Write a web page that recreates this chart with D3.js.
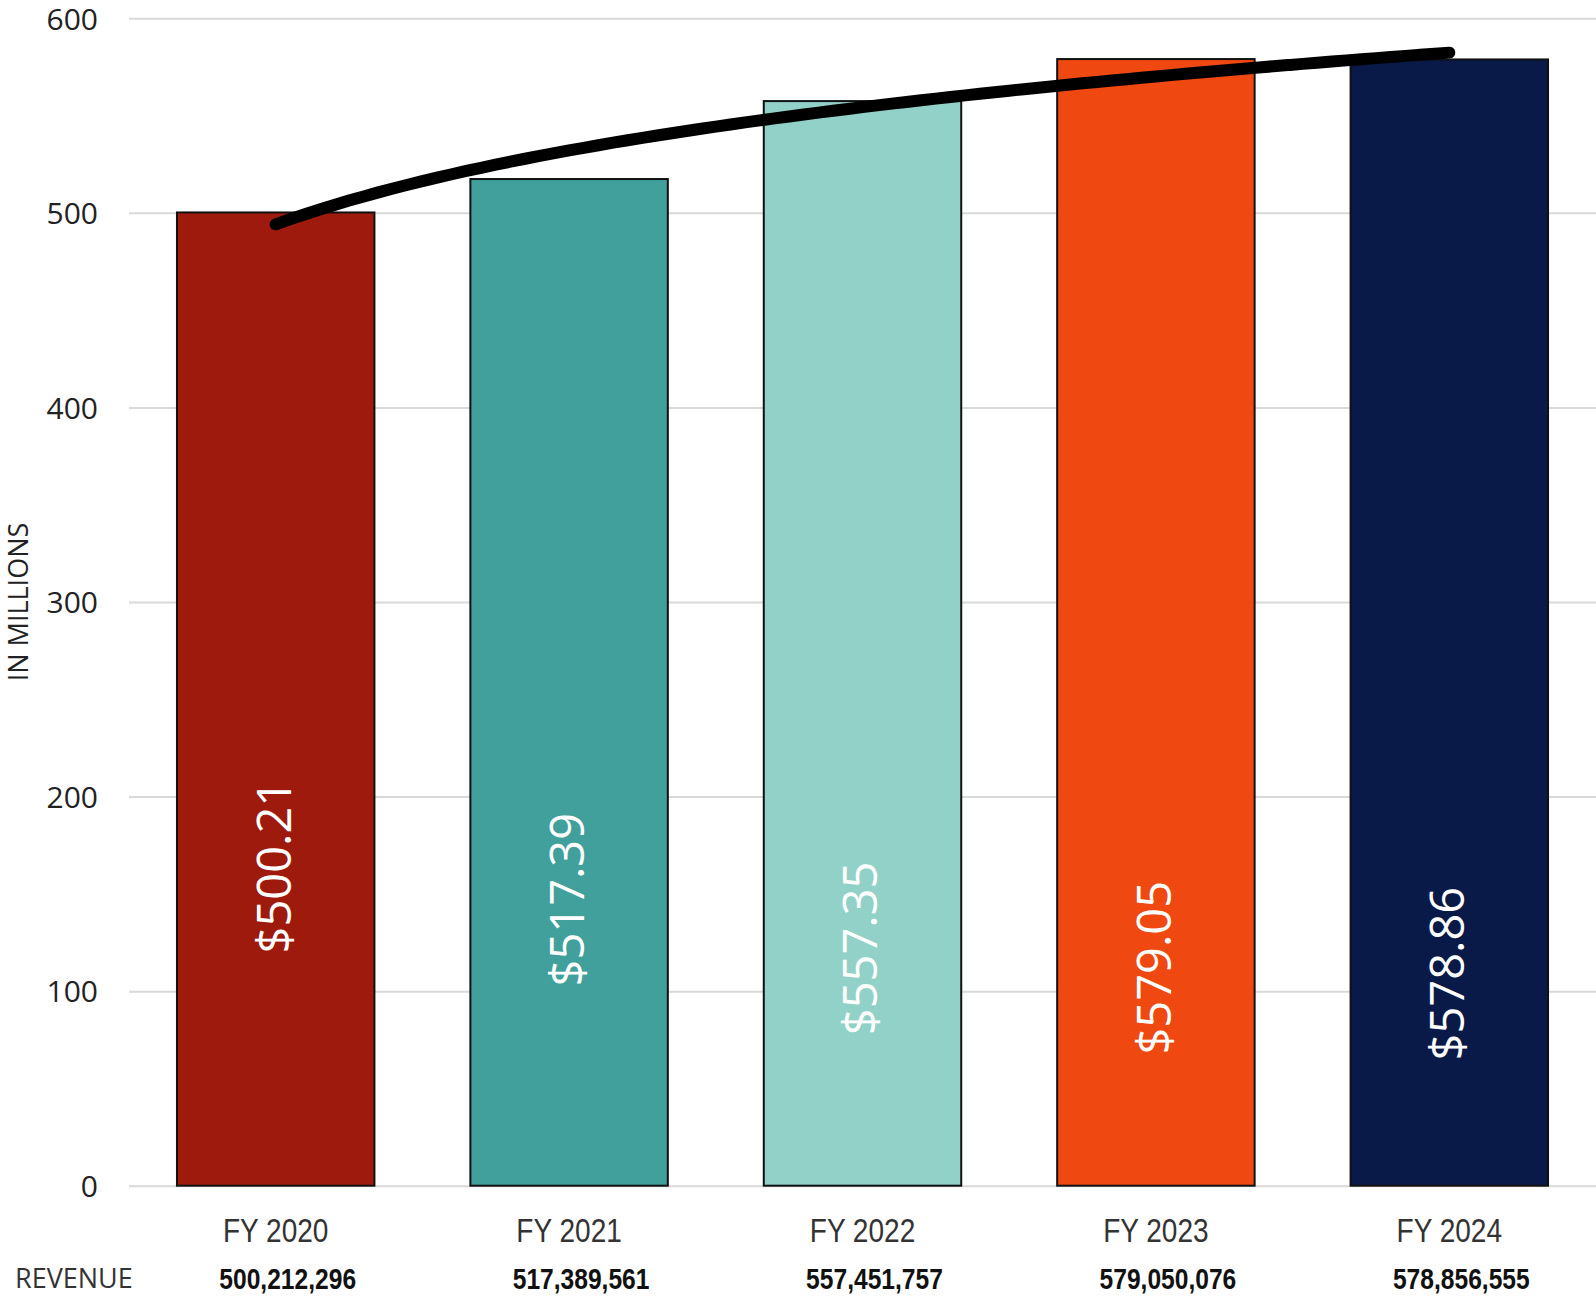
<!DOCTYPE html>
<html>
<head>
<meta charset="utf-8">
<script src="https://cdn.jsdelivr.net/npm/d3@7"></script>
<style>
  body { margin: 0; background: #fff; }
  svg { display: block; }
</style>
</head>
<body>
<svg id="chart"></svg>
<script>
// Chart data
const years = ["FY 2020", "FY 2021", "FY 2022", "FY 2023", "FY 2024"];
const revenue = [500212296, 517389561, 557451757, 579050076, 578856555];
// labels exactly as printed on the bars
const valueLabels = ["$500.21", "$517.39", "$557.35", "$579.05", "$578.86"];
const barColors = ["#9e1a0c", "#41a09b", "#92d1c7", "#ef4811", "#0a1a48"];
const yTicks = [0, 100, 200, 300, 400, 500, 600];
// where the middle of each value label sits, in axis units (millions)
const labelMid = [164, 147, 122, 112, 109];

const width = 1596;
const height = 1299;
const plotLeft = 129;
const svg = d3.select("#chart")
    .attr("width", width)
    .attr("height", height);

const millions = revenue.map(d => d / 1e6);

const x = d3.scaleBand()
    .domain(years)
    .range([plotLeft, width])
    .paddingInner(0.327)
    .paddingOuter(0.1635);

const y = d3.scaleLinear()
    .domain([0, 600])
    .range([1185.7, 18.3]);

// Gridlines and tick labels
const yAxis = d3.axisLeft(y)
    .tickValues(yTicks)
    .tickSize(-(width - plotLeft))
    .tickPadding(31)
    .tickFormat(d3.format("d"));

const axisG = svg.append("g")
    .attr("transform", `translate(${plotLeft},0)`)
    .call(yAxis);
axisG.select(".domain").remove();
axisG.selectAll(".tick line")
    .attr("stroke", "#d9d9d9")
    .attr("stroke-width", 2);
axisG.selectAll(".tick text")
    .attr("font-family", "'Open Sans', sans-serif")
    .attr("font-size", 30)
    .attr("fill", "#222")
    .attr("dy", "0.36em");

// Bars
svg.append("g").selectAll("rect")
    .data(millions)
    .enter().append("rect")
    .attr("x", (d, i) => x(years[i]))
    .attr("y", d => y(d))
    .attr("width", x.bandwidth())
    .attr("height", d => y(0) - y(d))
    .attr("fill", (d, i) => barColors[i])
    .attr("stroke", "#111")
    .attr("stroke-width", 2);

// Value labels, rotated inside the bars
svg.append("g").selectAll("text")
    .data(valueLabels)
    .enter().append("text")
    .attr("transform", (d, i) => `translate(${x(years[i]) + x.bandwidth() / 2 - 2},${y(labelMid[i])}) rotate(-90)`)
    .attr("text-anchor", "middle")
    .attr("dy", "0.36em")
    .attr("font-family", "'Open Sans', sans-serif")
    .attr("font-size", 47)
    .attr("fill", "#fff")
    .text(d => d);

// Logarithmic trendline fitted to the bar values
const lnX = millions.map((_, i) => Math.log(i + 1));
const meanLn = d3.mean(lnX);
const meanV = d3.mean(millions);
const slope = d3.sum(lnX, (l, i) => (l - meanLn) * (millions[i] - meanV)) / d3.sum(lnX, l => (l - meanLn) ** 2);
const intercept = meanV - slope * meanLn;

const xIdx = d3.scaleLinear()
    .domain([1, years.length])
    .range([x(years[0]) + x.bandwidth() / 2, x(years[years.length - 1]) + x.bandwidth() / 2]);

const trendPts = d3.range(1, years.length + 0.001, 0.05);
const trendLine = d3.line()
    .x(t => xIdx(t))
    .y(t => y(intercept + slope * Math.log(t)))
    .curve(d3.curveMonotoneX);

svg.append("path")
    .attr("d", trendLine(trendPts))
    .attr("fill", "none")
    .attr("stroke", "#000")
    .attr("stroke-width", 12)
    .attr("stroke-linecap", "round");

// Category labels (narrowed sans)
svg.append("g").selectAll("text")
    .data(years)
    .enter().append("text")
    .attr("transform", d => `translate(${x(d) + x.bandwidth() / 2},1242) scale(0.85,1)`)
    .attr("text-anchor", "middle")
    .attr("font-family", "'Liberation Sans', Arial, sans-serif")
    .attr("font-size", 33)
    .attr("fill", "#333")
    .text(d => d);

// Revenue row
svg.append("text")
    .attr("x", 15)
    .attr("y", 1288)
    .attr("font-family", "'Open Sans', sans-serif")
    .attr("font-size", 27)
    .attr("fill", "#333")
    .text("REVENUE");

svg.append("g").selectAll("text")
    .data(revenue)
    .enter().append("text")
    .attr("transform", (d, i) => `translate(${x(years[i]) + x.bandwidth() / 2 + 12},1289) scale(0.82,1)`)
    .attr("text-anchor", "middle")
    .attr("font-family", "'Liberation Sans', Arial, sans-serif")
    .attr("font-weight", "bold")
    .attr("font-size", 30)
    .attr("fill", "#111")
    .text(d => d3.format(",")(d));

// Axis title
svg.append("text")
    .attr("transform", `translate(28,${(y(0) + y(600)) / 2}) rotate(-90)`)
    .attr("text-anchor", "middle")
    .attr("font-family", "'Open Sans', sans-serif")
    .attr("font-size", 27)
    .attr("fill", "#222")
    .text("IN MILLIONS");
</script>
</body>
</html>
